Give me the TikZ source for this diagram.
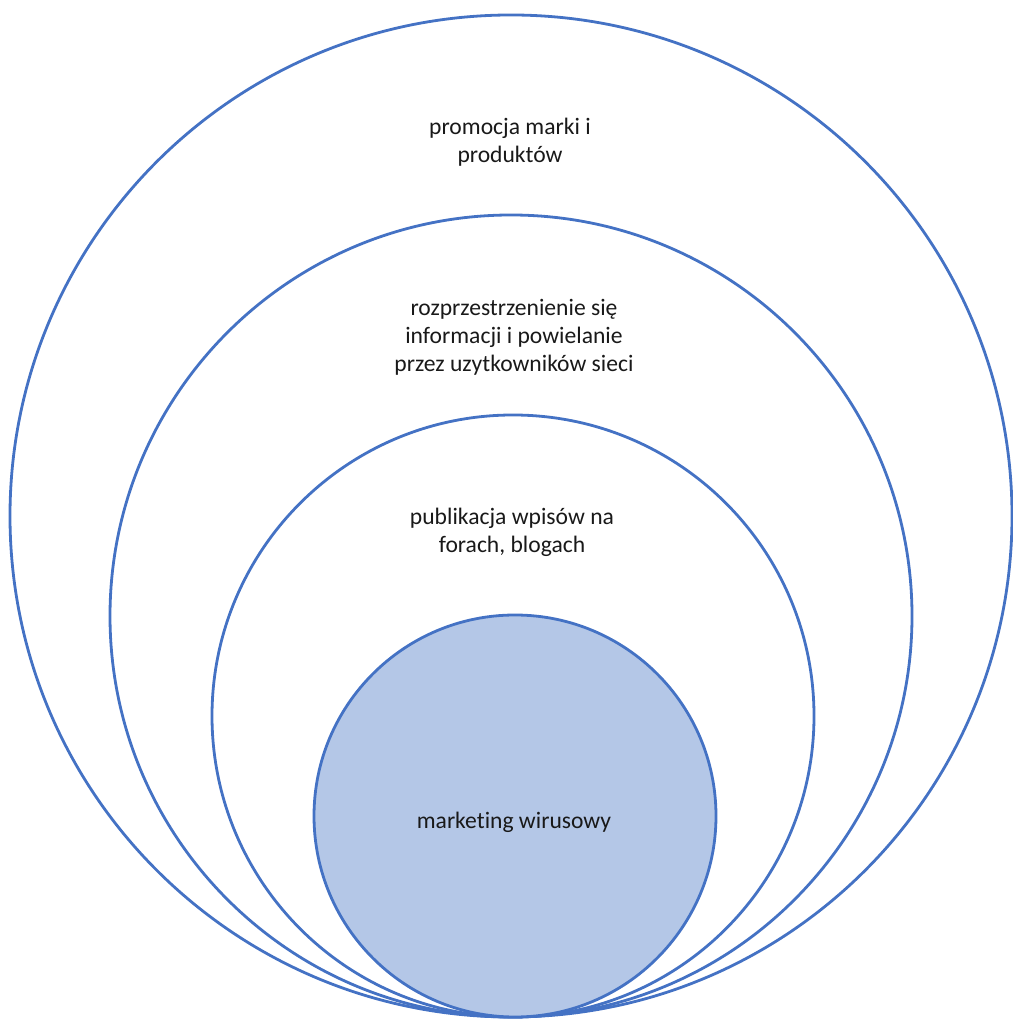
\documentclass[tikz,border=0pt]{standalone}
\usepackage{fontspec}
\setmainfont{Carlito}[Ligatures=NoCommon]
\usepackage{xcolor}
\definecolor{ringblue}{HTML}{4472C4}
\definecolor{corefill}{HTML}{B4C7E7}

\begin{document}
\begin{tikzpicture}[x=1pt,y=1pt,
    ring/.style={draw=ringblue,line width=2.8pt},
    label/.style={align=center,font=\fontsize{23.6}{28}\selectfont,text=black!90}]
    \useasboundingbox (0,0) rectangle (1012,1019);

    % Rings, all touching at the bottom
    \draw[ring] (511,503) circle (501);
    \draw[ring] (511,403) circle (401);
    \draw[ring] (513,303) circle (301);

    % Core
    \draw[ring,fill=corefill] (515,203) circle (201);

    % Texts
    \node[label] (promo) at (510,877) {promocja marki i\\produktów};
    \node[label] (spread) at (514,682) {rozprzestrzenienie się\\informacji i powielanie\\przez uzytkowników sieci};
    \node[label] (posts) at (512,487) {publikacja wpisów na\\forach, blogach};
    \node[label] (viral) at (514,197) {marketing wirusowy};
\end{tikzpicture}
\end{document}
